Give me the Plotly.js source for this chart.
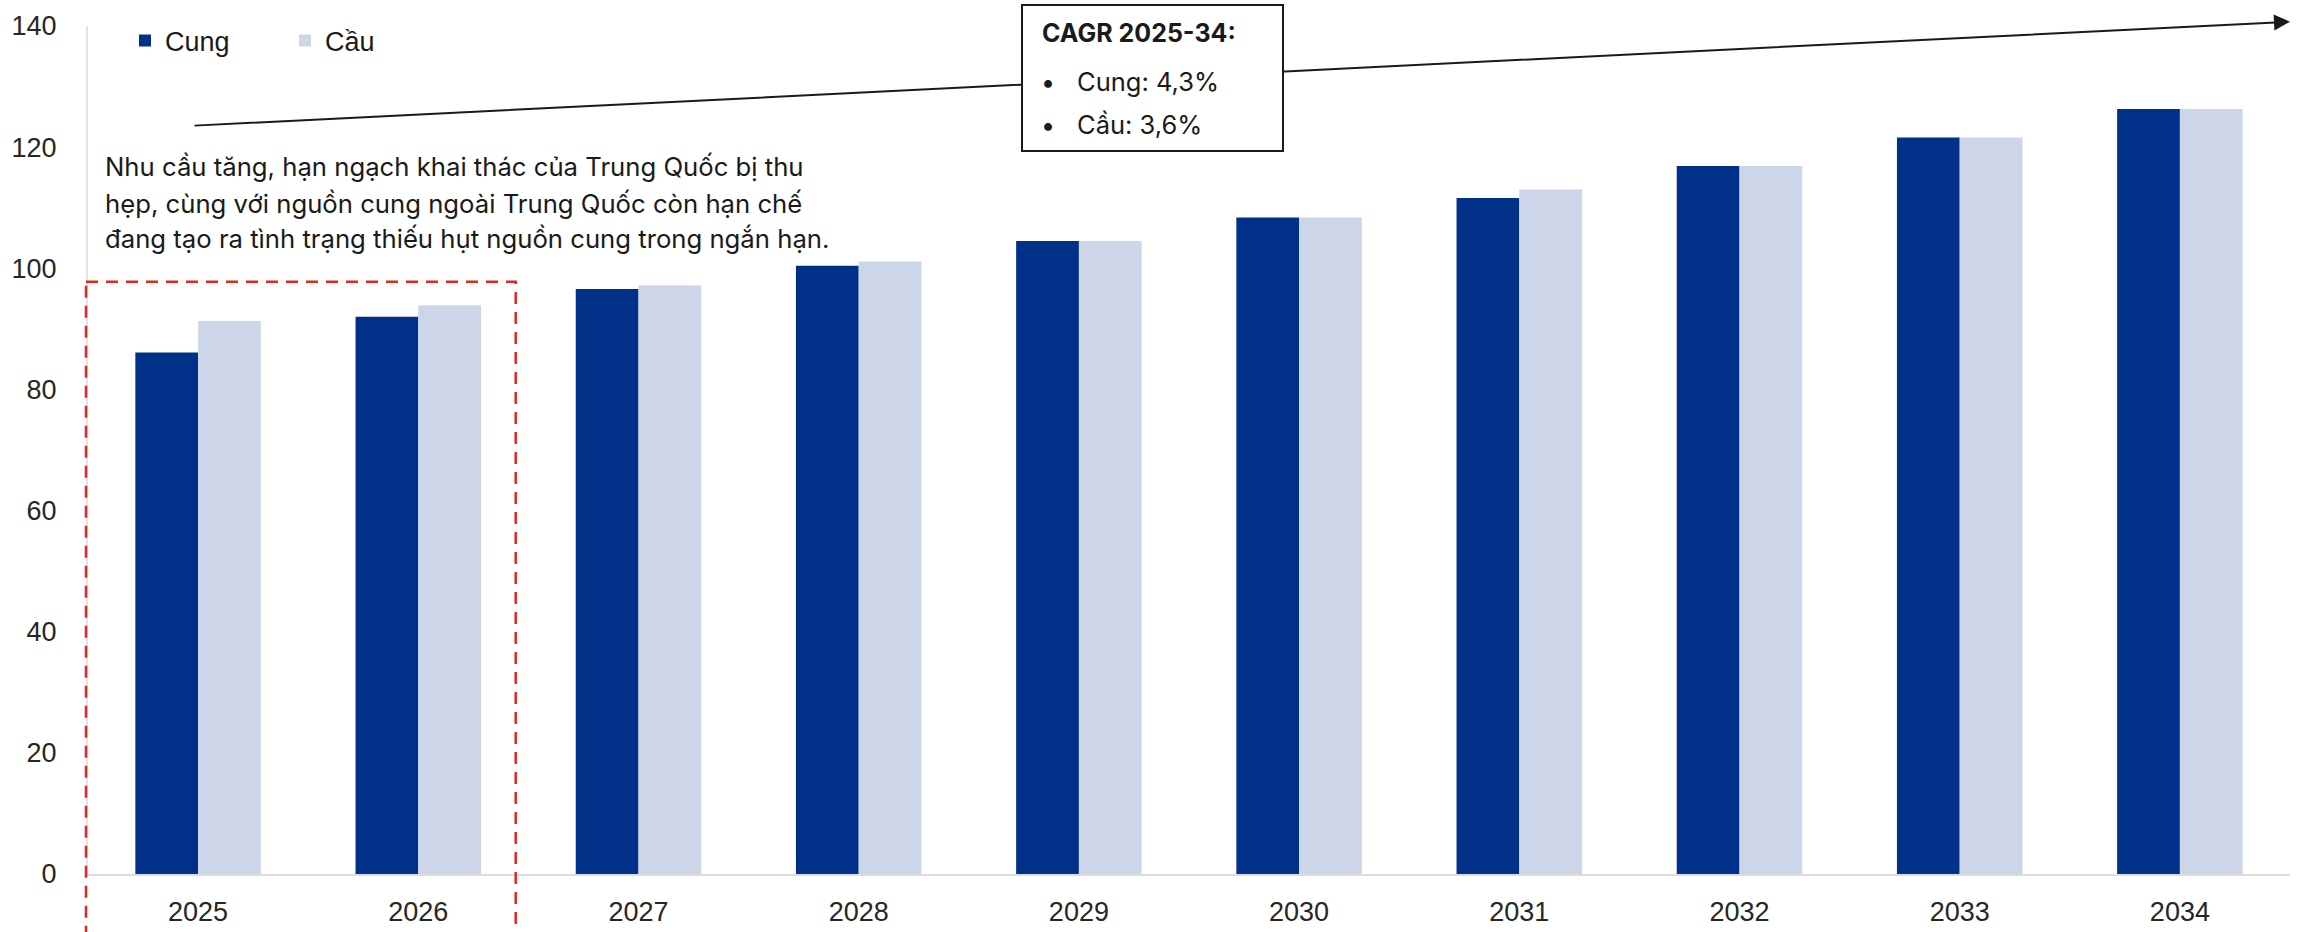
<!DOCTYPE html>
<html>
<head>
<meta charset="utf-8">
<script src="https://cdn.plot.ly/plotly-3.0.1.min.js"></script>
<style>html,body{margin:0;padding:0;background:#fff;}#chart{width:2303px;height:932px;}</style>
</head>
<body>
<div id="chart"></div>
<script>
const years = ['2025','2026','2027','2028','2029','2030','2031','2032','2033','2034'];
const cung = [86.1, 92.0, 96.6, 100.4, 104.5, 108.4, 111.6, 116.9, 121.6, 126.3];
const cau  = [91.3, 93.9, 97.2, 101.1, 104.5, 108.4, 113.0, 116.9, 121.6, 126.3];
const yTicks = [0, 20, 40, 60, 80, 100, 120, 140];
const noteLines = [
  'Nhu cầu tăng, hạn ngạch khai thác của Trung Quốc bị thu',
  'hẹp, cùng với nguồn cung ngoài Trung Quốc còn hạn chế',
  'đang tạo ra tình trạng thiếu hụt nguồn cung trong ngắn hạn.'
];
const cagrTitle = 'CAGR 2025-34:';
const cagrItems = ['Cung: 4,3%', 'Cầu: 3,6%'];

// geometry helpers (pixel -> paper)
const W = 2303, H = 932;
const M = {l: 88, r: 13, t: 26, b: 58};
const PW = W - M.l - M.r, PH = H - M.t - M.b;
const px = x => (x - M.l) / PW;
const py = y => (H - M.b - y) / PH;

const txtFont = 'Inter, "Noto Sans", sans-serif';
const tickFont = '"Liberation Sans", Arial, sans-serif';

const traces = [
  {type: 'bar', name: 'Cung', x: years, y: cung, marker: {color: '#003087'}},
  {type: 'bar', name: 'Cầu', x: years, y: cau, marker: {color: '#cdd6e8'}}
];

const annotations = [];
// arrow
annotations.push({
  xref: 'paper', yref: 'paper', x: px(2290), y: py(21.7),
  axref: 'pixel', ayref: 'pixel', ax: 193 - 2290, ay: 125.7 - 21.7,
  text: '', showarrow: true, arrowhead: 2, arrowsize: 1.6, arrowwidth: 2,
  arrowcolor: '#1a1a1a', standoff: 0, startstandoff: 0
});
// CAGR box
annotations.push({
  xref: 'paper', yref: 'paper', x: px(1021), y: py(4), xanchor: 'left', yanchor: 'top',
  text: ' ', showarrow: false, width: 259, height: 144, bgcolor: '#ffffff',
  bordercolor: '#1a1a1a', borderwidth: 2, borderpad: 0
});
annotations.push({
  xref: 'paper', yref: 'paper', x: px(1040), y: py(33), xanchor: 'left', yanchor: 'middle',
  text: '<b>' + cagrTitle + '</b>', showarrow: false,
  font: {family: txtFont, size: 25, color: '#1a1a1a'}
});
const itemY = [82, 125];
cagrItems.forEach((t, i) => {
  annotations.push({
    xref: 'paper', yref: 'paper', x: px(1039), y: py(itemY[i]), xanchor: 'left', yanchor: 'middle',
    text: '•', showarrow: false, font: {family: txtFont, size: 25, color: '#1a1a1a'}
  });
  annotations.push({
    xref: 'paper', yref: 'paper', x: px(1075), y: py(itemY[i]), xanchor: 'left', yanchor: 'middle',
    text: t, showarrow: false, font: {family: txtFont, size: 25.5, color: '#1a1a1a'}
  });
});
// note text
const noteY = [167, 203, 239];
noteLines.forEach((t, i) => {
  annotations.push({
    xref: 'paper', yref: 'paper', x: px(103), y: py(noteY[i]), xanchor: 'left', yanchor: 'middle',
    text: t, showarrow: false, font: {family: txtFont, size: 25.7, color: '#1a1a1a'}
  });
});

const layout = {
  width: W, height: H,
  margin: M,
  paper_bgcolor: '#ffffff', plot_bgcolor: '#ffffff',
  barmode: 'group', bargap: 0.43, bargroupgap: 0,
  showlegend: true,
  legend: {
    orientation: 'h', x: px(125), y: py(41), xanchor: 'left', yanchor: 'middle',
    font: {family: tickFont, size: 27, color: '#1a1a1a'},
    entrywidth: 115, entrywidthmode: 'pixels', bgcolor: 'rgba(0,0,0,0)',
    traceorder: 'normal'
  },
  xaxis: {
    type: 'category', showgrid: false, zeroline: false,
    showline: true, linecolor: '#dcdcdc', linewidth: 2, ticks: '',
    tickfont: {family: tickFont, size: 27, color: '#262626'},
    ticklabelstandoff: 13, fixedrange: true
  },
  yaxis: {
    range: [0, 140], tickvals: yTicks, ticktext: yTicks.map(String),
    showgrid: false, zeroline: false,
    showline: true, linecolor: '#e3e3e3', linewidth: 2, ticks: '',
    tickfont: {family: tickFont, size: 27, color: '#262626'},
    ticklabelstandoff: 24, fixedrange: true
  },
  shapes: [{
    type: 'rect', xref: 'paper', yref: 'paper',
    x0: px(86), x1: px(515.7), y0: py(281.7), y1: py(990),
    line: {color: '#e3261e', width: 2.5, dash: '12px,8px'}, fillcolor: 'rgba(0,0,0,0)', layer: 'above'
  }],
  annotations: annotations
};

Plotly.newPlot('chart', traces, layout, {displayModeBar: false, staticPlot: true});
</script>
</body>
</html>
